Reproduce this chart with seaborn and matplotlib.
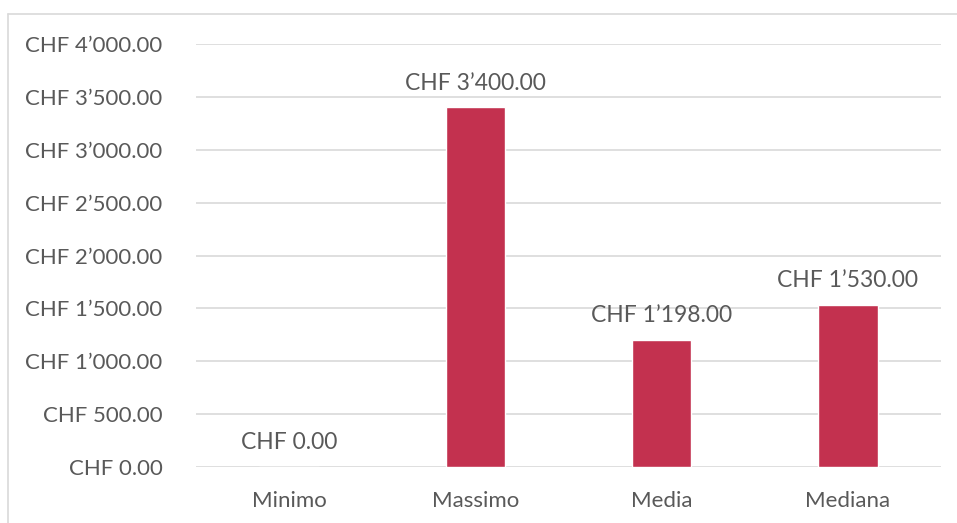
import matplotlib
matplotlib.use("Agg")
import matplotlib.pyplot as plt
import seaborn as sns
import pandas as pd
from matplotlib.lines import Line2D
from matplotlib.ticker import FuncFormatter

categories = ["Minimo", "Massimo", "Media", "Mediana"]
values = [0.0, 3400.0, 1198.0, 1530.0]
yticks = [0, 500, 1000, 1500, 2000, 2500, 3000, 3500, 4000]

def chf(v):
    s = f"{v:,.2f}".replace(",", "\u2019")
    return f"CHF {s}"

sns.set_theme(style="white")
plt.rcParams['font.family'] = ['Lato', 'DejaVu Sans']

W, H = 957, 523
fig = plt.figure(figsize=(W/100, H/100), dpi=100)
ax = fig.add_axes([196/W, 1-467/H, (941-196)/W, (467-44)/H])

df = pd.DataFrame({"cat": categories, "val": values})
sns.barplot(data=df, x="cat", y="val", color="#C3314F", width=0.32,
            saturation=1, ax=ax)

ax.set_ylim(0, 4000)
ax.set_yticks(yticks)
ax.yaxis.set_major_formatter(FuncFormatter(lambda v, p: chf(v)))
ax.grid(axis="y", color="#D9D9D9", linewidth=1.2)
ax.set_axisbelow(True)
for s in ax.spines.values():
    s.set_visible(False)
ax.set_xlabel("")
ax.set_ylabel("")
ax.tick_params(axis="both", length=0, labelsize=16, labelcolor="#595959")
ax.tick_params(axis="y", pad=24)
ax.tick_params(axis="x", pad=17)

for i, v in enumerate(values):
    ax.annotate(chf(v), (i, v), xytext=(0, 10), textcoords="offset points",
                ha="center", va="bottom", fontsize=16.5, color="#595959")

fig.add_artist(Line2D([8/W, 8/W], [0, 1-14/H], color="#D9D9D9", linewidth=1.2,
                      transform=fig.transFigure))
fig.add_artist(Line2D([8/W, 1], [1-14/H, 1-14/H], color="#D9D9D9", linewidth=1.2,
                      transform=fig.transFigure))

fig.savefig("out.png", dpi=100)
